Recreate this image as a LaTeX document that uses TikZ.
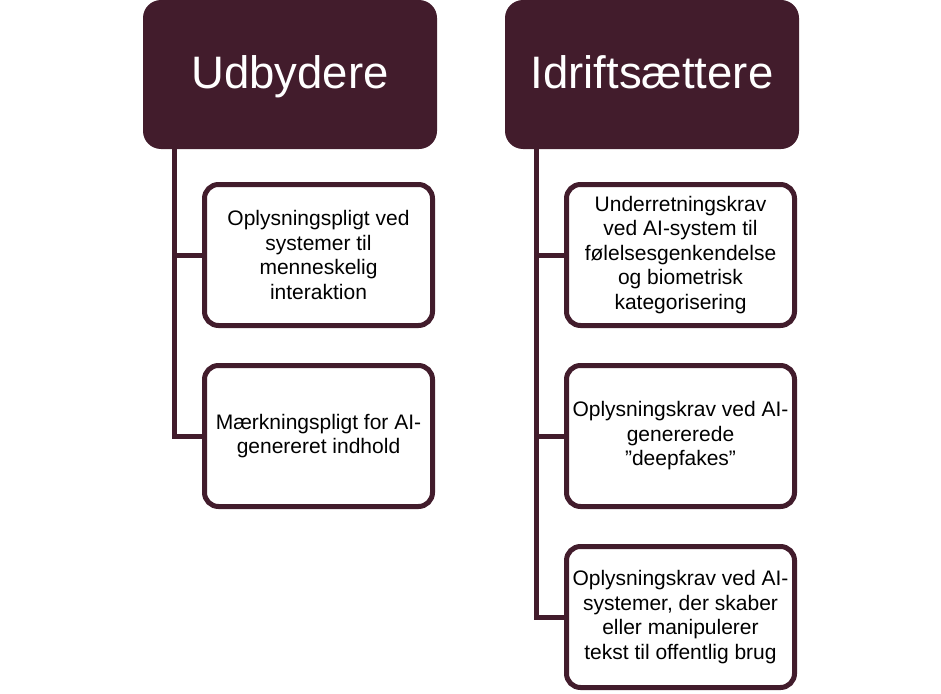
\documentclass[tikz,border=0pt]{standalone}
\usepackage{fontspec}
\setmainfont{Liberation Sans}
\definecolor{maroon}{RGB}{66,28,44}
\tikzset{
  hdr/.style={fill=maroon, rounded corners=18pt, minimum width=294pt, minimum height=149pt,
    inner sep=0pt, text=white, text height=33pt, text depth=6pt,
    font=\fontsize{45.5}{50}\selectfont},
  child/.style={draw=maroon, fill=white, line width=5pt, rounded corners=14pt,
    minimum width=228pt, minimum height=141pt, inner sep=0pt, align=center,
    text=black, font=\fontsize{21}{24.5}\selectfont},
  conn/.style={draw=maroon, line width=5pt, line join=miter}
}
\begin{document}
\begin{tikzpicture}[x=1pt,y=-1pt]
\useasboundingbox (0,0) rectangle (941,693);
% headers
\node[hdr] (hL) at (290,74.5) {Udbydere};
\node[hdr] (hR) at (652,74.5) {Idriftsættere};
% spine coordinates
\coordinate (sL) at (174,149);
\coordinate (sR) at (536,149);
% left children
\node[child] (l1) at (318.5,255) {Oplysningspligt ved\\systemer til\\menneskelig\\interaktion};
\node[child] (l2) at (318.5,436) {Mærkningspligt for AI-\\genereret indhold};
% right children
\node[child] (r1) at (680.5,255) {Underretningskrav\\ved AI-system til\\følelsesgenkendelse\\og biometrisk\\kategorisering};
\node[child] (r2) at (680.5,436) {Oplysningskrav ved AI-\\genererede\\”deepfakes”};
\node[child] (r3) at (680.5,617) {Oplysningskrav ved AI-\\systemer, der skaber\\eller manipulerer\\tekst til offentlig brug};
% connectors
\draw[conn] (sL) |- (l2.west);
\draw[conn] (sL |- l1.west) -- (l1.west);
\draw[conn] (sR) |- (r3.west);
\draw[conn] (sR |- r1.west) -- (r1.west);
\draw[conn] (sR |- r2.west) -- (r2.west);
\end{tikzpicture}
\end{document}
